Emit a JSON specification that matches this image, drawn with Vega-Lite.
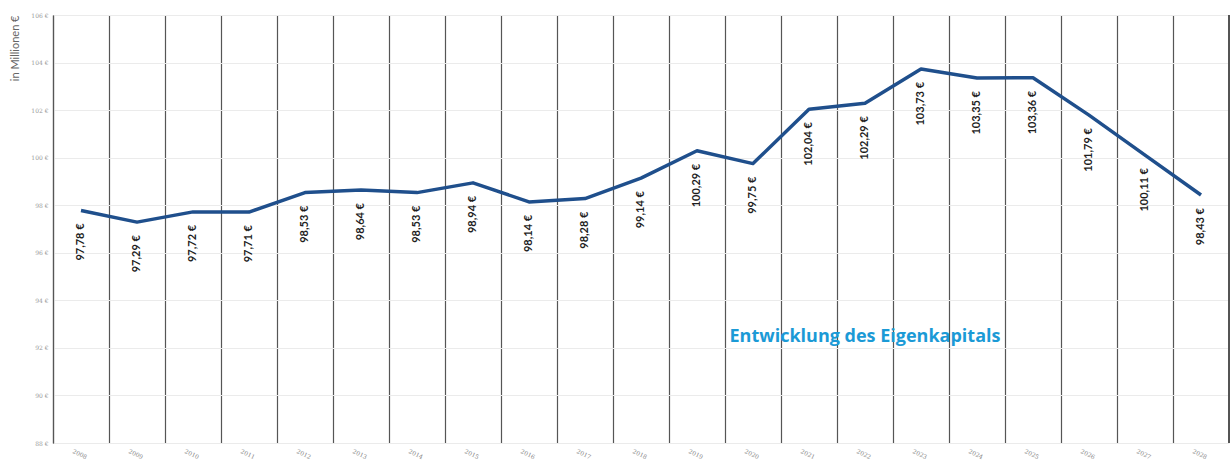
{
  "$schema": "https://vega.github.io/schema/vega-lite/v6.json",
  "width": 1176,
  "height": 428,
  "autosize": "none",
  "padding": {"left": 53, "top": 15, "right": 2, "bottom": 21},
  "background": "#ffffff",
  "config": {
    "view": {"stroke": null},
    "locale": {"number": {"decimal": ",", "thousands": ".", "grouping": [3], "currency": ["", " €"]}},
    "font": "Lato"
  },
  "data": {
    "values": [
      {"jahr": "2008", "wert": 97.78},
      {"jahr": "2009", "wert": 97.29},
      {"jahr": "2010", "wert": 97.72},
      {"jahr": "2011", "wert": 97.71},
      {"jahr": "2012", "wert": 98.53},
      {"jahr": "2013", "wert": 98.64},
      {"jahr": "2014", "wert": 98.53},
      {"jahr": "2015", "wert": 98.94},
      {"jahr": "2016", "wert": 98.14},
      {"jahr": "2017", "wert": 98.28},
      {"jahr": "2018", "wert": 99.14},
      {"jahr": "2019", "wert": 100.29},
      {"jahr": "2020", "wert": 99.75},
      {"jahr": "2021", "wert": 102.04},
      {"jahr": "2022", "wert": 102.29},
      {"jahr": "2023", "wert": 103.73},
      {"jahr": "2024", "wert": 103.35},
      {"jahr": "2025", "wert": 103.36},
      {"jahr": "2026", "wert": 101.79},
      {"jahr": "2027", "wert": 100.11},
      {"jahr": "2028", "wert": 98.43}
    ]
  },
  "encoding": {
    "x": {
      "field": "jahr", "type": "ordinal",
      "scale": {"type": "band", "paddingInner": 0, "paddingOuter": 0},
      "axis": {
        "title": null, "domain": false, "ticks": false,
        "grid": true, "bandPosition": 0, "gridColor": "#555555", "gridWidth": 1.2,
        "labelAngle": 25, "labelAlign": "center", "labelBaseline": "top", "labelPadding": 8,
        "labelFontSize": 6, "labelColor": "#888888", "labelFont": "DejaVu Serif"
      }
    },
    "y": {
      "field": "wert", "type": "quantitative",
      "scale": {"domain": [88, 106], "zero": false, "nice": false},
      "axis": {
        "values": [88, 90, 92, 94, 96, 98, 100, 102, 104, 106],
        "format": "$.0f",
        "title": "in Millionen €", "titleFontSize": 11, "titleFontWeight": "normal", "titleColor": "#666666",
        "titleAngle": -90, "titleX": -38, "titleY": 0, "titleAlign": "right", "titleBaseline": "middle",
        "domain": true, "domainColor": "#555555", "domainWidth": 1.2, "ticks": false,
        "grid": true, "gridColor": "#ebebeb",
        "labelFontSize": 6, "labelColor": "#999999", "labelPadding": 5, "labelFont": "DejaVu Serif"
      }
    }
  },
  "layer": [
    {
      "mark": {"type": "rule", "color": "#555555", "strokeWidth": 1.2},
      "encoding": {
        "x": {"datum": "2028", "type": "ordinal", "bandPosition": 1},
        "y": null
      }
    },
    {
      "mark": {"type": "line", "color": "#1f4f8c", "strokeWidth": 3.5, "strokeJoin": "round"}
    },
    {
      "mark": {"type": "text", "angle": 270, "align": "right", "baseline": "middle", "dx": -13, "fontSize": 11, "fontWeight": "bold", "color": "#1e1e1e", "font": "Lato"},
      "encoding": {
        "text": {"field": "wert", "type": "quantitative", "format": "$.2f"}
      }
    },
    {
      "data": {"values": [{"jahr": "2022", "wert": 92.45, "titel": "Entwicklung des Eigenkapitals"}]},
      "mark": {"type": "text", "align": "center", "baseline": "middle", "fontSize": 18, "fontWeight": "bold", "color": "#1b9ad6", "font": "Open Sans"},
      "encoding": {"text": {"field": "titel"}}
    }
  ]
}
